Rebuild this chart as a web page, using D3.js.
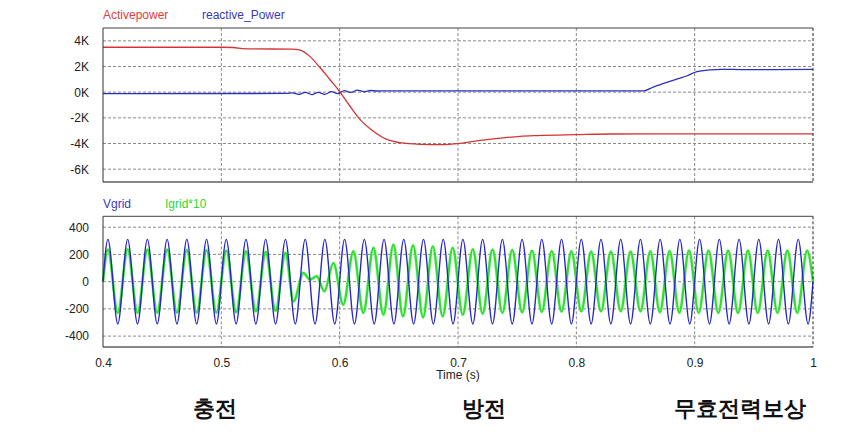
<!DOCTYPE html>
<html>
<head>
<meta charset="utf-8">
<script src="https://cdn.jsdelivr.net/npm/d3@7"></script>
<style>
  html, body { margin: 0; padding: 0; background: #fff; }
  svg { display: block; }
  text { font-family: "Liberation Sans", Arial, sans-serif; }
</style>
</head>
<body>
<svg id="chart" width="847" height="432"></svg>
<script>
// ---------------- DATA ----------------
const timeTicks = [0.4, 0.5, 0.6, 0.7, 0.8, 0.9, 1];
const powerTicks = [-6000, -4000, -2000, 0, 2000, 4000];
const waveTicks = [-400, -200, 0, 200, 400];
const phaseLabels = ["충전", "방전", "무효전력보상"];
const phaseLabelTimes = [0.495, 0.722, 0.938];

// Active power (W)
const pTimes  = [0.400, 0.500, 0.510, 0.518, 0.525, 0.560, 0.566, 0.575, 0.583, 0.592, 0.600, 0.608, 0.616, 0.6285, 0.640, 0.651, 0.668, 0.685, 0.702, 0.719, 0.738, 0.7525, 0.767, 0.800, 0.830, 0.900, 1.000];
const pValues = [3500, 3500, 3480, 3400, 3370, 3360, 3290, 2770, 1960, 950, 50, -1000, -2000, -3040, -3680, -3940, -4065, -4095, -3990, -3760, -3560, -3440, -3380, -3310, -3260, -3250, -3250];

// Reactive power (var)
const qTimes  = [0.400, 0.555, 0.560, 0.5655, 0.571, 0.5765, 0.582, 0.5875, 0.593, 0.5985, 0.604, 0.6095, 0.615, 0.6205, 0.626, 0.632, 0.640, 0.857, 0.865, 0.872, 0.879, 0.886, 0.893, 0.902, 0.913, 0.922, 0.940, 1.000];
const qValues = [-120, -100, -60, -180, -20, -190, -10, -170, 40, -110, 120, -20, 160, 40, 130, 90, 100, 100, 400, 620, 840, 1050, 1260, 1600, 1730, 1780, 1760, 1770];

// Vgrid extrema (V): peaks / troughs every half period of the 60 Hz grid
const vgridStart = 0.4, vgridEnd = 1.0;
const vgridFirstPeak = 0.404167, vgridHalfPeriod = 1 / 120;
const vgridExtrema = [
  311, -311, 311, -311, 311, -311, 311, -311, 311, -311, 311, -311,
  311, -311, 311, -311, 311, -311, 311, -311, 311, -311, 311, -311,
  311, -311, 311, -311, 311, -311, 311, -311, 311, -311, 311, -311,
  311, -311, 311, -311, 311, -311, 311, -311, 311, -311, 311, -311,
  311, -311, 311, -311, 311, -311, 311, -311, 311, -311, 311, -311,
  311, -311, 311, -311, 311, -311, 311, -311, 311, -311, 311, -311
];

// Igrid*10 extrema (A x10)
const igridTimes = [0.400, 0.4042, 0.4125, 0.4208, 0.4292, 0.4375, 0.4458, 0.4542, 0.4625, 0.4708, 0.4792, 0.4875, 0.4958, 0.5042, 0.5125, 0.5208, 0.5292, 0.5375, 0.5458, 0.5542,
  0.5610, 0.5693, 0.5750, 0.5806, 0.5870, 0.5947, 0.6030, 0.6116, 0.6200, 0.6285, 0.6370, 0.6454, 0.6535, 0.6620, 0.6705, 0.6787, 0.6870, 0.6955, 0.7040,
  0.7125, 0.7208, 0.7292, 0.7375, 0.7458, 0.7542, 0.7625, 0.7708, 0.7792, 0.7875, 0.7958, 0.8042, 0.8125, 0.8208, 0.8292, 0.8375, 0.8458, 0.8542,
  0.8625, 0.8706, 0.8788, 0.8870, 0.8952, 0.9034, 0.9117, 0.9200, 0.9283, 0.9367, 0.9450, 0.9533, 0.9617, 0.9700, 0.9783, 0.9867, 0.9950, 1.000];
const igridValues = [0, 235, -230, 238, -230, 235, -228, 235, -228, 232, -228, 232, -228, 228, -225, 222, -218, 218, -215, 212,
  -145, 64, 15, 40, -71, 137, -169, 223, -230, 248, -243, 272, -255, 267, -262, 260, -255, 248, -243,
  238, -235, 235, -230, 232, -225, 228, -222, 225, -220, 222, -218, 220, -218, 220, -218, 220, -218,
  222, -225, 225, -228, 228, -230, 228, -230, 228, -230, 228, -230, 228, -230, 228, -230, 228, 0];

// ---------------- DRAWING ----------------
const svg = d3.select("#chart");
svg.append("rect").attr("width", 847).attr("height", 432).attr("fill", "#fff");

const L = 103, R = 813;
const top1 = { t: 28, b: 182 };
const bot2 = { t: 216.3, b: 347 };

const x = d3.scaleLinear().domain([0.4, 1]).range([L, R]);
const y1 = d3.scaleLinear().domain([-7000, 5000]).range([top1.b, top1.t]);
const y2 = d3.scaleLinear().domain([-480, 480]).range([bot2.b, bot2.t]);

function panel(yScale, ticks, fmt, pt, pb) {
  const g = svg.append("g");
  g.selectAll("line.hg").data(ticks).enter().append("line")
    .attr("x1", L).attr("x2", R)
    .attr("y1", d => yScale(d)).attr("y2", d => yScale(d))
    .attr("stroke", "#8a8a8a").attr("stroke-width", 1).attr("stroke-dasharray", "3,2");
  g.selectAll("line.vg").data(timeTicks.filter(t => t > 0.4 && t < 1)).enter().append("line")
    .attr("x1", d => x(d)).attr("x2", d => x(d))
    .attr("y1", pt).attr("y2", pb)
    .attr("stroke", "#8a8a8a").attr("stroke-width", 1).attr("stroke-dasharray", "3,2");
  const ax = d3.axisLeft(yScale).tickValues(ticks).tickSize(0).tickPadding(14).tickFormat(fmt);
  const ag = svg.append("g").attr("transform", `translate(${L},0)`).call(ax);
  ag.select(".domain").remove();
  ag.selectAll("text").attr("font-size", 12).attr("fill", "#222")
    .attr("font-family", "'Liberation Sans', Arial, sans-serif");
  return g;
}

function frame(pt, pb) {
  const f = svg.append("g");
  f.append("line").attr("x1", L).attr("x2", R).attr("y1", pt).attr("y2", pt).attr("stroke", "#444");
  f.append("line").attr("x1", L).attr("x2", R).attr("y1", pb).attr("y2", pb).attr("stroke", "#111");
  f.append("line").attr("x1", L).attr("x2", L).attr("y1", pt).attr("y2", pb).attr("stroke", "#333");
  f.append("line").attr("x1", R).attr("x2", R).attr("y1", pt).attr("y2", pb).attr("stroke", "#222")
    .attr("stroke-dasharray", "3,2");
}

// ---- top panel
panel(y1, powerTicks, d => (d / 1000) + "K", top1.t, top1.b);

const lineTop = (ts, vs) => d3.line().curve(d3.curveMonotoneX)
  .x((d, i) => x(ts[i])).y((d, i) => y1(vs[i]))(vs);

svg.append("path").attr("d", lineTop(qTimes, qValues))
  .attr("fill", "none").attr("stroke", "#2f2fba").attr("stroke-width", 1.3);
svg.append("path").attr("d", lineTop(pTimes, pValues))
  .attr("fill", "none").attr("stroke", "#d43434").attr("stroke-width", 1.3);
frame(top1.t, top1.b);

svg.append("text").attr("x", 103).attr("y", 18.5).attr("font-size", 12).attr("fill", "#e04040").text("Activepower");
svg.append("text").attr("x", 202).attr("y", 18.5).attr("font-size", 12).attr("fill", "#3a3ab8").text("reactive_Power");

// ---- bottom panel
panel(y2, waveTicks, d => String(d), bot2.t, bot2.b);

const vT = [vgridStart].concat(vgridExtrema.map((v, k) => vgridFirstPeak + k * vgridHalfPeriod)).concat([vgridEnd]);
const vV = [0].concat(vgridExtrema).concat([0]);

const lineBot = (ts, vs) => d3.line().curve(d3.curveMonotoneX)
  .x((d, i) => x(ts[i])).y((d, i) => y2(vs[i]))(vs);

svg.append("path").attr("d", lineBot(igridTimes, igridValues))
  .attr("fill", "none").attr("stroke", "#90f090").attr("stroke-width", 3.4).attr("opacity", 0.55);
svg.append("path").attr("d", lineBot(igridTimes, igridValues))
  .attr("fill", "none").attr("stroke", "#2ee02e").attr("stroke-width", 2.2);
svg.append("path").attr("d", lineBot(vT, vV))
  .attr("fill", "none").attr("stroke", "#2626c4").attr("stroke-width", 1.35);
frame(bot2.t, bot2.b);

svg.append("text").attr("x", 103).attr("y", 207.5).attr("font-size", 12).attr("fill", "#3a3ab8").text("Vgrid");
svg.append("text").attr("x", 165).attr("y", 207.5).attr("font-size", 12).attr("fill", "#33d633").text("Igrid*10");

// x axis
const xa = d3.axisBottom(x).tickValues(timeTicks).tickSize(0).tickPadding(11).tickFormat(d => String(d));
const xg = svg.append("g").attr("transform", `translate(0,${bot2.b})`).call(xa);
xg.select(".domain").remove();
xg.selectAll("text").attr("font-size", 12).attr("fill", "#222")
  .attr("font-family", "'Liberation Sans', Arial, sans-serif");

svg.append("text").attr("x", (L + R) / 2).attr("y", 379).attr("text-anchor", "middle")
  .attr("font-size", 12).attr("fill", "#222").text("Time (s)");

// phase labels
svg.selectAll("text.phase").data(phaseLabels).enter().append("text")
  .attr("class", "phase")
  .attr("x", (d, i) => x(phaseLabelTimes[i]))
  .attr("y", 416)
  .attr("text-anchor", "middle")
  .attr("font-family", "'Noto Sans CJK KR', sans-serif")
  .attr("font-weight", "bold")
  .attr("font-size", 21.5)
  .attr("fill", "#111")
  .text(d => d);
</script>
</body>
</html>
